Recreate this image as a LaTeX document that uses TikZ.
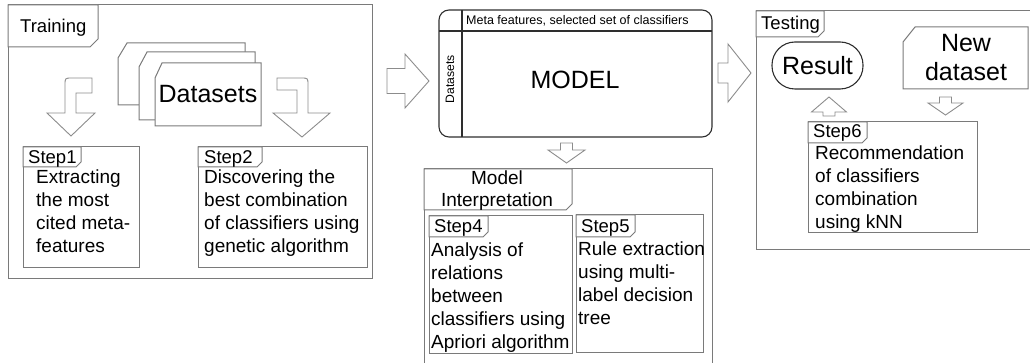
\documentclass[tikz,border=0pt]{standalone}
\usepackage{fontspec}
\setmainfont{Liberation Sans}
\usetikzlibrary{calc}
\usetikzlibrary{math}
\definecolor{LineGray}{HTML}{7A7A7A}
\definecolor{ArrowGray}{HTML}{8C8C8C}
\definecolor{BoxDark}{HTML}{2E2E2E}

\begin{document}
\begin{tikzpicture}[x=1pt,y=-1pt]
    \tikzmath {
        \ch = 5;   % chamfer of the step tabs
        \lh = 23;  % line spacing of the step texts
    }

    \tikzstyle{frame}=[draw=LineGray, line width=1pt]
    \tikzstyle{tab}=[frame, fill=white]
    \tikzstyle{doc}=[frame, fill=white]
    \tikzstyle{blockarrow}=[draw=ArrowGray, line width=0.9pt, fill=white, line join=miter]
    \tikzstyle{modelbox}=[draw=BoxDark, line width=1.1pt]
    \tikzstyle{tabtext}=[inner sep=0pt, anchor=base west, font=\fontsize{18.5}{22}\selectfont]
    % multi-line texts sit on the baseline of their last line
    \tikzstyle{steptext}=[inner sep=0pt, anchor=base west, align=left, font=\fontsize{19}{\lh}\selectfont]
    \tikzstyle{big}=[inner sep=0pt, font=\fontsize{25}{29.5}\selectfont]

    \useasboundingbox (0,0) rectangle (1030,363);

    % Training
    \coordinate (train_tl) at (8,5);
    \coordinate (train_br) at (372,278);
    \coordinate (train_tab) at (98,47);
    \draw[frame] (train_tl) rectangle (train_br);
    \draw[tab] (train_tl) -| ($(train_tab)+(0,-8)$) -- ($(train_tab)+(-8,0)$) -| (train_tl) -- cycle;
    \node[tabtext] (train_lbl) at (20,33) {Training};

    % stacked datasets
    \coordinate (ds1_tl) at (118,43);
    \coordinate (ds1_br) at (245,105);
    \draw[doc] ($(ds1_tl)+(9,0)$) -| (ds1_br) -| ($(ds1_tl)+(0,15)$) -- cycle;
    \coordinate (ds2_tl) at (139,52);
    \coordinate (ds2_br) at (255,120);
    \draw[doc] ($(ds2_tl)+(8,0)$) -| (ds2_br) -| ($(ds2_tl)+(0,15)$) -- cycle;
    \coordinate (ds3_tl) at (155,63);
    \coordinate (ds3_br) at (261,126);
    \draw[doc] ($(ds3_tl)+(7,0)$) -| (ds3_br) -| ($(ds3_tl)+(0,15)$) -- cycle;
    \node[big] (ds_lbl) at ($(ds3_tl)!0.5!(ds3_br)$) {Datasets};

    % bent arrows to step 1 and step 2
    \coordinate (bend_l) at (71,136);
    \draw[blockarrow] ($(bend_l)+(21,-58)$) -- ($(bend_l)+(1,-58)$) .. controls ($(bend_l)+(-6,-58)$) .. ($(bend_l)+(-6,-51)$)
        -- ($(bend_l)+(-6,-23)$) -- ($(bend_l)+(-24,-23)$) -- (bend_l) -- ($(bend_l)+(24,-23)$)
        -- ($(bend_l)+(5,-23)$) -- ($(bend_l)+(5,-43)$) -- ($(bend_l)+(21,-43)$) -- cycle;
    \coordinate (bend_r) at (302,137);
    \draw[blockarrow] ($(bend_r)+(-25,-59)$) -- ($(bend_r)+(-1,-59)$) .. controls ($(bend_r)+(6,-59)$) .. ($(bend_r)+(6,-52)$)
        -- ($(bend_r)+(6,-24)$) -- ($(bend_r)+(28,-24)$) -- (bend_r) -- ($(bend_r)+(-29,-24)$)
        -- ($(bend_r)+(-5,-24)$) -- ($(bend_r)+(-5,-47)$) -- ($(bend_r)+(-25,-47)$) -- cycle;

    % Step1
    \coordinate (s1_tl) at (23,147);
    \coordinate (s1_br) at (139,268);
    \coordinate (s1_tab) at (81,167);
    \draw[frame] (s1_tl) rectangle (s1_br);
    \draw[tab] (s1_tl) -| ($(s1_tab)+(0,-\ch)$) -- ($(s1_tab)+(-\ch,0)$) -| (s1_tl) -- cycle;
    \node[tabtext] (s1_lbl) at ($(s1_tl)+(5,17)$) {Step1};
    \node[steptext] (s1_txt) at (36,253) {Extracting\\the most\\cited meta-\\features};

    % Step2
    \coordinate (s2_tl) at (198,147);
    \coordinate (s2_br) at (367,268);
    \coordinate (s2_tab) at (262,167);
    \draw[frame] (s2_tl) rectangle (s2_br);
    \draw[tab] (s2_tl) -| ($(s2_tab)+(0,-\ch)$) -- ($(s2_tab)+(-\ch,0)$) -| (s2_tl) -- cycle;
    \node[tabtext] (s2_lbl) at ($(s2_tl)+(6,17)$) {Step2};
    \node[steptext] (s2_txt) at (204,253) {Discovering the\\best combination\\of classifiers using\\genetic algorithm};

    % arrow into the model
    \coordinate (arr_model) at (429,81);
    \draw[blockarrow] (arr_model) -- ++(-24,-27) -- ++(0,14.5) -- ++(-18,0) -- ++(0,25) -- ++(18,0) -- ++(0,14.5) -- cycle;

    % MODEL
    \coordinate (model_tl) at (439,10);
    \coordinate (model_br) at (712,137);
    \coordinate (model_hdr) at (462,31);
    \draw[modelbox, rounded corners=10] (model_tl) rectangle (model_br);
    \draw[modelbox] (model_hdr |- model_tl) -- (model_hdr |- model_br);
    \draw[modelbox] (model_tl |- model_hdr) -- (model_hdr -| model_br);
    \node[inner sep=0pt, anchor=base west, font=\fontsize{12.5}{15}\selectfont] (meta_lbl) at (466,25) {Meta features, selected set of classifiers};
    \node[inner sep=0pt, rotate=90, font=\fontsize{12.2}{15}\selectfont] (side_lbl) at (450,79) {Datasets};
    \node[big] (model_lbl) at (575,80) {MODEL};

    % arrow down to the interpretation
    \coordinate (arr_interp) at (566.5,163);
    \draw[blockarrow] (arr_interp) -- ++(-18.5,-13) -- ++(12.5,0) -- ++(0,-7) -- ++(12,0) -- ++(0,7) -- ++(12.5,0) -- cycle;

    % Model Interpretation
    \coordinate (interp_tl) at (424,169);
    \coordinate (interp_tab) at (572,210);
    \draw[frame] (424,364) |- (712,169) -- (712,364);
    \draw[tab] (interp_tl) -| ($(interp_tab)+(0,-6)$) -- ($(interp_tab)+(-6,0)$) -| (interp_tl) -- cycle;
    \node[steptext, align=center, anchor=base, font=\fontsize{19}{22}\selectfont] (interp_lbl) at (497,207) {Model\\Interpretation};

    % Step4
    \coordinate (s4_tl) at (429,216);
    \coordinate (s4_br) at (572,353);
    \coordinate (s4_tab) at (488,237);
    \draw[frame] (s4_tl) rectangle (s4_br);
    \draw[tab] (s4_tl) -| ($(s4_tab)+(0,-\ch)$) -- ($(s4_tab)+(-\ch,0)$) -| (s4_tl) -- cycle;
    \node[tabtext] (s4_lbl) at ($(s4_tl)+(5,17)$) {Step4};
    \node[steptext] (s4_txt) at (431,348) {Analysis of\\relations\\between\\classifiers using\\Apriori algorithm};

    % Step5
    \coordinate (s5_tl) at (576,215);
    \coordinate (s5_br) at (703,352);
    \coordinate (s5_tab) at (635,237);
    \draw[frame] (s5_tl) rectangle (s5_br);
    \draw[tab] (s5_tl) -| ($(s5_tab)+(0,-\ch)$) -- ($(s5_tab)+(-\ch,0)$) -| (s5_tl) -- cycle;
    \node[tabtext] (s5_lbl) at ($(s5_tl)+(5,18)$) {Step5};
    \node[steptext] (s5_txt) at (578,324) {Rule extraction\\using multi-\\label decision\\tree};

    % arrow into testing
    \coordinate (arr_test) at (751,73);
    \draw[blockarrow] (arr_test) -- ++(-23,-29) -- ++(0,19) -- ++(-10,0) -- ++(0,20) -- ++(10,0) -- ++(0,19) -- cycle;

    % Testing
    \coordinate (test_tl) at (756,11);
    \coordinate (test_tab) at (824,37);
    \draw[frame] (1031,11) -| (756,250) -- (1031,250);
    \draw[tab] (test_tl) -| ($(test_tab)+(0,-6)$) -- ($(test_tab)+(-6,0)$) -| (test_tl) -- cycle;
    \node[tabtext] (test_lbl) at (761,30) {Testing};

    \node[big, draw=BoxDark, line width=1.1pt, minimum width=91pt, minimum height=47pt, rounded corners=23pt] (result) at (817.5,65.5) {Result};

    \coordinate (new_tl) at (903,27);
    \coordinate (new_br) at (1028,89);
    \draw[doc] ($(new_tl)+(12,0)$) -| (new_br) -| ($(new_tl)+(0,15)$) -- cycle;
    \node[big, align=center, anchor=base] (new_lbl) at (966,81) {New\\dataset};

    \coordinate (arr_result) at (829,97);
    \draw[blockarrow] (arr_result) -- ++(-17.5,15) -- ++(11.5,0) -- ++(0,4) -- ++(12,0) -- ++(0,-4) -- ++(11.5,0) -- cycle;
    \coordinate (arr_new) at (945.5,115);
    \draw[blockarrow] (arr_new) -- ++(-17.5,-12) -- ++(11.5,0) -- ++(0,-6) -- ++(12,0) -- ++(0,6) -- ++(11.5,0) -- cycle;

    % Step6
    \coordinate (s6_tl) at (808,122);
    \coordinate (s6_br) at (977,233);
    \coordinate (s6_tab) at (867,143);
    \draw[frame] (s6_tl) rectangle (s6_br);
    \draw[tab] (s6_tl) -| ($(s6_tab)+(0,-\ch)$) -- ($(s6_tab)+(-\ch,0)$) -| (s6_tl) -- cycle;
    \node[tabtext] (s6_lbl) at ($(s6_tl)+(5,16)$) {Step6};
    \node[steptext] (s6_txt) at (815,229) {Recommendation\\of classifiers\\combination\\using kNN};
\end{tikzpicture}
\end{document}
